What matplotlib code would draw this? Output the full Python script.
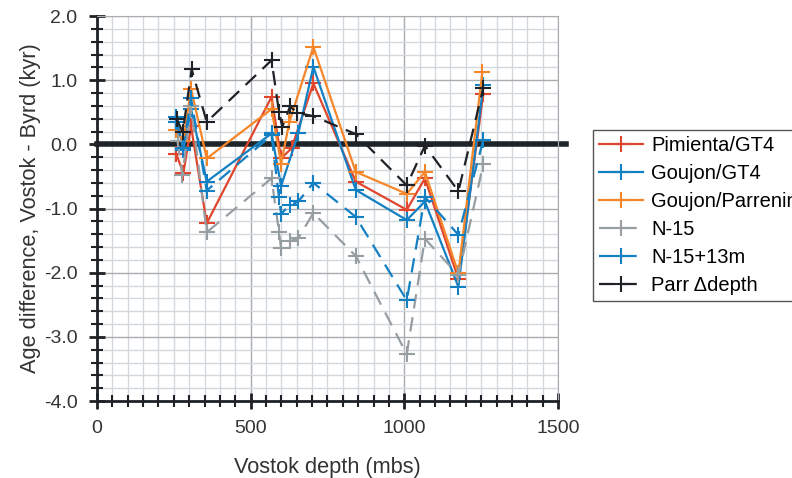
import matplotlib.pyplot as plt
from matplotlib.ticker import MultipleLocator

plt.rcParams['font.family'] = ['Liberation Sans', 'DejaVu Sans']

# Data (depth in mbs, age difference in kyr)
pim_depth = [258, 281, 306, 357, 568, 599, 633, 704, 842, 1008, 1067, 1176, 1257]
pim_diff = [-0.15, -0.45, 0.28, -1.23, 0.74, -0.22, -0.06, 0.95, -0.58, -1.02, -0.53, -2.10, 0.79]

gou_depth = [258, 281, 306, 357, 568, 599, 655, 704, 842, 1008, 1067, 1176, 1257]
gou_diff = [0.43, -0.09, 0.55, -0.58, 0.17, -0.65, 0.17, 1.21, -0.71, -1.18, -0.89, -2.22, 0.92]

par_depth = [258, 281, 306, 357, 568, 599, 626, 704, 842, 1008, 1067, 1176, 1254]
par_diff = [0.22, 0.05, 0.87, -0.22, 0.55, -0.30, 0.35, 1.52, -0.43, -0.77, -0.43, -2.01, 1.13]

n15_depth = [262, 278, 306, 357, 568, 592, 599, 628, 655, 704, 842, 1008, 1067, 1176, 1257]
n15_diff = [0.05, -0.48, 0.6, -1.37, -0.53, -1.36, -1.62, -1.51, -1.46, -1.07, -1.74, -3.27, -1.47, -2.04, -0.31]

n13_depth = [258, 281, 306, 357, 568, 592, 599, 628, 655, 704, 842, 1008, 1067, 1176, 1257]
n13_diff = [0.35, -0.05, 0.72, -0.72, 0.14, -0.82, -1.08, -0.95, -0.89, -0.60, -1.13, -2.43, -0.82, -1.41, 0.07]

parr_depth = [259, 279, 308, 357, 568, 592, 603, 628, 652, 704, 842, 1008, 1067, 1176, 1257]
parr_diff = [0.40, 0.19, 1.17, 0.35, 1.31, 0.51, 0.27, 0.59, 0.49, 0.44, 0.16, -0.64, -0.02, -0.73, 0.88]

fig = plt.figure(figsize=(7.92, 4.78), dpi=100)
ax = fig.add_axes([0.1225, 0.161, 0.582, 0.8055])

dash = (0, (6.5, 4))
common = dict(marker="+", markersize=11, markeredgewidth=1.5, linewidth=1.6)
ax.plot(pim_depth, pim_diff, color="#e0452e", label="Pimienta/GT4", **common)
ax.plot(gou_depth, gou_diff, color="#1480c4", label="Goujon/GT4", **common)
ax.plot(par_depth, par_diff, color="#f5862a", label="Goujon/Parrenin", **common)
ax.plot(n15_depth, n15_diff, color="#979ea2", linestyle=dash, label="N-15", **common)
ax.plot(n13_depth, n13_diff, color="#1480c4", linestyle=dash, label="N-15+13m", **common)
ax.plot(parr_depth, parr_diff, color="#1e2226", linestyle=dash, label="Parr \u0394depth", **common)

# thick zero line, running a bit past the right edge
ax.plot([0, 1525], [0, 0], color="#1e2428", linewidth=4, clip_on=False, zorder=1.5)

ax.set_xlim(0, 1500)
ax.set_ylim(-4, 2)
ax.xaxis.set_major_locator(MultipleLocator(500))
ax.xaxis.set_minor_locator(MultipleLocator(50))
ax.yaxis.set_major_locator(MultipleLocator(1))
ax.yaxis.set_minor_locator(MultipleLocator(0.2))
ax.yaxis.set_major_formatter(lambda v, p: f"{v:.1f}")

ax.grid(which="minor", color="#d3d8dc", linewidth=1)
ax.grid(which="major", color="#a9adb1", linewidth=1)
ax.set_axisbelow(True)

for side in ["top", "right"]:
    ax.spines[side].set_color("#a9adb1")
for side in ["left", "bottom"]:
    ax.spines[side].set_color("#1e2226")
    ax.spines[side].set_linewidth(2)

ax.tick_params(which="major", direction="inout", length=12, width=2, color="#1e2226",
               labelsize=14, labelcolor="#333333", pad=8)
ax.tick_params(which="minor", direction="inout", length=8, width=1.5, color="#1e2226")
ax.tick_params(top=False, right=False, which="both")

ax.set_xlabel("Vostok depth (mbs)", fontsize=15.7, color="#333333", labelpad=14)
ax.set_ylabel("Age difference, Vostok - Byrd (kyr)", fontsize=15.7, color="#333333", labelpad=2)

fig.legend(loc="upper left", bbox_to_anchor=(593 / 792, 1 - 130 / 478), fontsize=14.5,
           frameon=True, fancybox=False, edgecolor="#555555", handlelength=2.2,
           labelspacing=0.45, borderpad=0.3, handletextpad=0.4, framealpha=1,
           borderaxespad=0)

fig.savefig("out.png", dpi=100)
